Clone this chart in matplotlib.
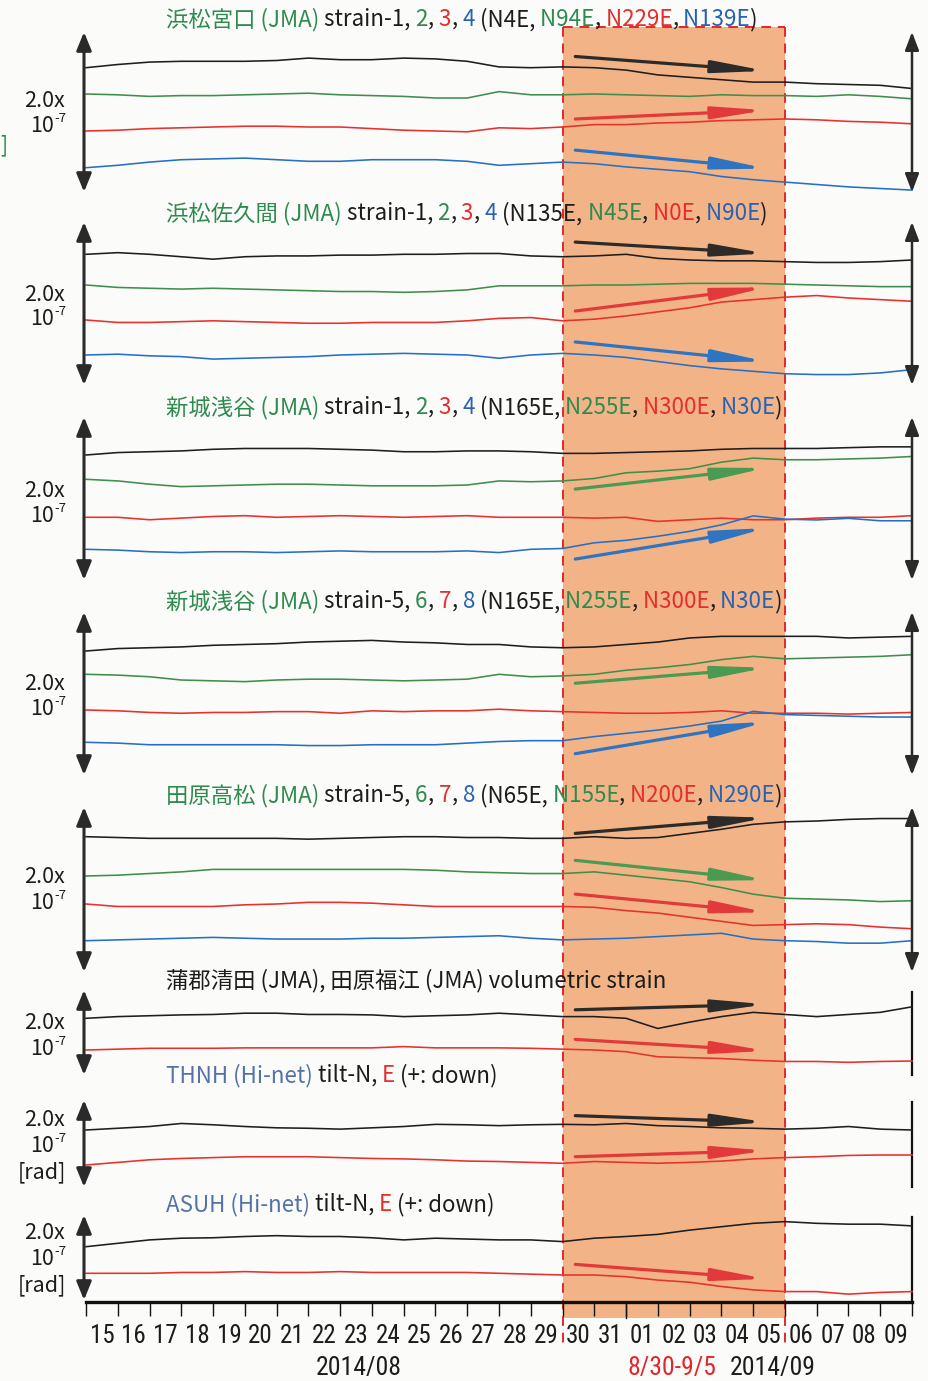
import numpy as np
import matplotlib
matplotlib.use("Agg")
import matplotlib.pyplot as plt
from matplotlib import font_manager
from matplotlib.font_manager import FontProperties

# ------------------------------------------------------------------ data
# day index 0 = start of 2014/08/15 ... 26 = end of 2014/09/09
DAY_EDGES = list(range(27))
DAY_LABELS = ["15", "16", "17", "18", "19", "20", "21", "22", "23", "24", "25",
              "26", "27", "28", "29", "30", "31", "01", "02", "03", "04", "05",
              "06", "07", "08", "09"]
MONTH_LABELS = ["2014/08", "2014/09"]
EVENT_LABEL = "8/30-9/5"
EVENT_START = 15      # 8/30
EVENT_END = 22        # end of 9/5
MONTH_BOUNDARY = 17   # 9/01
ARROW_DAYS = [15.4, 21.4]

# traces, nano-strain (1e-9) / nano-radian, relative to first sample, daily
P1_S1 = [0, 4, 7, 8, 8, 8, 9, 12, 10, 10, 12, 11, 8, 1, 0, 1, 0, -3, -9, -12, -15, -18, -18, -20, -21, -22, -26]
P1_S2 = [0, -1, -3, -2, -2, -1, 0, 1, -1, -2, -3, -5, -5, 3, -1, -1, 0, -1, -2, -3, -1, -2, -2, -3, -1, -3, -6]
P1_S3 = [0, 1, 3, 4, 5, 6, 6, 5, 5, 3, 1, 0, -1, 4, 3, 5, 8, 8, 10, 11, 13, 14, 15, 14, 12, 11, 9]
P1_S4 = [0, 3, 7, 10, 11, 12, 10, 8, 8, 10, 10, 10, 8, 3, 5, 7, 5, 1, -2, -5, -11, -15, -18, -21, -24, -26, -28]

P2_S1 = [0, 2, 0, -3, -6, -3, -2, -2, -1, -1, 0, 0, 1, 1, -2, -3, -2, 0, -5, -7, -8, -8, -9, -10, -10, -9, -7]
P2_S2 = [0, -3, -4, -5, -4, -5, -6, -7, -8, -8, -9, -8, -6, -1, -1, -1, 0, 0, 1, 2, 2, 2, 1, 0, -1, -2, -2]
P2_S3 = [0, -3, -3, -2, -1, -2, -3, -4, -4, -3, -3, -3, -1, 2, 3, -1, 1, 5, 10, 15, 22, 25, 28, 30, 27, 25, 23]
P2_S4 = [0, 1, -1, -2, -5, -4, -3, -2, 0, 1, 2, 1, 0, -4, 0, 2, 0, -3, -8, -13, -17, -20, -23, -24, -24, -22, -18]

P3_S1 = [0, 3, 4, 5, 7, 8, 8, 8, 7, 6, 4, 4, 5, 5, 4, 2, 2, 3, 4, 5, 7, 8, 8, 8, 9, 10, 10]
P3_S2 = [0, -2, -6, -9, -8, -7, -6, -6, -7, -8, -8, -8, -7, -2, -3, -2, 1, 8, 10, 13, 21, 26, 24, 24, 25, 26, 28]
P3_S3 = [0, 0, -3, -1, 1, 2, 0, 1, 2, 1, 0, 1, 2, 0, 0, 0, -1, 0, -5, -3, -1, -3, -3, -1, 0, 0, 2]
P3_S4 = [0, -1, -3, -4, -3, -3, -4, -3, -2, -3, -3, -3, -2, -4, 0, 1, 8, 11, 16, 22, 30, 41, 37, 36, 38, 35, 35]

P4_S5 = [0, 3, 4, 5, 7, 8, 9, 11, 12, 13, 11, 10, 8, 8, 5, 4, 5, 8, 11, 16, 18, 18, 18, 18, 16, 17, 18]
P4_S6 = [0, -1, -3, -7, -8, -9, -7, -6, -6, -7, -8, -7, -6, 0, -3, -2, 0, 5, 8, 12, 18, 22, 19, 20, 21, 22, 24]
P4_S7 = [0, -1, -3, -4, -3, -3, -2, -2, -4, -1, -2, -1, -1, 1, -1, -2, -3, -4, -4, -3, -1, -4, -4, -4, -5, -4, -3]
P4_S8 = [0, -1, -3, -3, -3, -3, -3, -4, -4, -3, -3, -3, -1, 1, 2, 2, 7, 11, 15, 20, 26, 38, 34, 33, 32, 31, 31]

P5_S5 = [0, -1, -2, -2, -2, -2, -2, -3, -2, -1, 0, 0, -1, -1, -2, -2, 0, -2, -1, 4, 9, 15, 18, 19, 21, 22, 22]
P5_S6 = [0, 1, 3, 5, 8, 8, 8, 8, 8, 8, 8, 7, 5, 4, 3, 3, 5, 1, -3, -7, -14, -22, -27, -28, -29, -31, -30]
P5_S7 = [0, -3, -3, -3, -3, -1, 0, 2, 2, 1, -1, -3, -3, -3, -3, -3, -4, -8, -11, -16, -21, -26, -25, -24, -25, -28, -30]
P5_S8 = [0, 1, 2, 3, 4, 3, 2, 2, 2, 3, 3, 4, 5, 6, 3, 1, 2, 3, 5, 7, 9, 2, 0, -1, -3, -3, 0]

P6_VOL1 = [0, 4, 6, 8, 9, 12, 12, 9, 9, 8, 4, 6, 8, 12, 8, 4, 4, 0, -24, -9, 4, 14, 9, 4, 9, 14, 27]
P6_VOL2 = [0, 2, 4, 4, 4, 5, 5, 5, 5, 5, 8, 5, 5, 5, 4, 2, 0, -4, -16, -18, -20, -24, -27, -27, -29, -27, -26]

P7_N = [0, 4, 8, 15, 12, 8, 5, 4, 2, 5, 8, 13, 12, 10, 12, 13, 12, 15, 10, 8, 5, 4, 2, 4, 8, 2, 0]
P7_E = [0, 6, 12, 15, 17, 19, 19, 19, 17, 15, 14, 12, 9, 8, 6, 4, 8, 6, 4, 6, 9, 14, 17, 19, 22, 23, 23]

P8_N = [0, 8, 16, 20, 21, 24, 26, 24, 24, 21, 16, 20, 18, 16, 16, 12, 20, 24, 29, 39, 47, 55, 59, 55, 53, 53, 49]
P8_E = [0, 0, 0, 2, 2, 4, 2, 2, 4, 2, 2, 2, 2, 0, -2, -4, -4, -8, -16, -21, -31, -39, -43, -43, -49, -45, -43]

# trend arrows (start, end) relative to the trace's first sample
P1_TRENDS = {0: [14, -4], 2: [15, 26], 3: [22, -1]}
P2_TRENDS = {0: [15, 1], 2: [11, 40], 3: [16, -8]}
P3_TRENDS = {1: [-12, 14], 3: [-12, 26]}
P4_TRENDS = {1: [-11, 8], 3: [-14, 25]}
P5_TRENDS = {0: [4, 23], 1: [19, -5], 2: [12, -10]}
P6_TRENDS = {0: [20, 33], 1: [25, -2]}
P7_TRENDS = {0: [33, 18], 1: [19, 33]}
P8_TRENDS = {0: [39, 76], 1: [21, -13]}

STATIONS = ["浜松宮口", "浜松佐久間", "新城浅谷", "新城浅谷", "田原高松"]
COMPONENTS = [["1", "2", "3", "4"], ["1", "2", "3", "4"], ["1", "2", "3", "4"],
              ["5", "6", "7", "8"], ["5", "6", "7", "8"]]
AZIMUTHS = [["N4E", "N94E", "N229E", "N139E"], ["N135E", "N45E", "N0E", "N90E"],
            ["N165E", "N255E", "N300E", "N30E"], ["N165E", "N255E", "N300E", "N30E"],
            ["N65E", "N155E", "N200E", "N290E"]]
VOL_TITLE = "蒲郡清田 (JMA), 田原福江 (JMA) volumetric strain"
TILT_STATIONS = ["THNH", "ASUH"]

# ------------------------------------------------------------------ style
W, H = 929, 1381
X0, X1 = 86, 912          # pixel position of day 0 and day 26
AXIS_Y = 1302
BG = "#fbfbf9"
SHADE = "#f2b487"
DASH = "#e0282c"
TK = "#1c1c1c"
TG = "#2f8a4f"
TR = "#e52d2d"
TB = "#2762b3"
TS = "#5572a8"
LK, LG, LR, LB = "#1e1e1e", "#3f8f4a", "#e8302c", "#2570c4"
AK, AG, AR, AB = "#2b2b2b", "#4a9a52", "#e23a3a", "#2f74c0"
BAR = "#2a2a2a"

CJK = ["Noto Sans CJK JP", "DejaVu Sans"]


def pick_narrow():
    fl = font_manager.fontManager.ttflist
    prefs = ["Liberation Sans Narrow", "Roboto Condensed", "Open Sans Condensed",
             "Noto Sans Condensed", "DejaVu Sans Condensed"]
    for n in prefs:
        for f in fl:
            if f.name == n and f.style == "normal" and f.weight in (400, "normal", "regular"):
                return f.fname
    for f in fl:
        if ("condensed" in str(f.stretch) and f.style == "normal"
                and f.weight in (400, "normal", "regular")
                and f.name in ("DejaVu Sans", "Noto Sans", "Open Sans", "Roboto",
                               "Liberation Sans")):
            return f.fname
    return None


NARROW_FILE = pick_narrow()


def tick_font(size):
    if NARROW_FILE:
        return FontProperties(fname=NARROW_FILE, size=size)
    return FontProperties(family="Noto Sans CJK JP", size=size - 1.5)


PANELS = [
    dict(top=32, bot=192, base=[67.7, 94, 131, 167.7], series=[P1_S1, P1_S2, P1_S3, P1_S4],
         colors=[LK, LG, LR, LB], acolors=[AK, AG, AR, AB], trends=P1_TRENDS,
         lab=[107, 132, None], right="arrow", title_y=26),
    dict(top=222, bot=385, base=[254.3, 285, 320, 355], series=[P2_S1, P2_S2, P2_S3, P2_S4],
         colors=[LK, LG, LR, LB], acolors=[AK, AG, AR, AB], trends=P2_TRENDS,
         lab=[301, 325, None], right="arrow", title_y=220),
    dict(top=417, bot=580, base=[455, 479.3, 517.3, 549.3], series=[P3_S1, P3_S2, P3_S3, P3_S4],
         colors=[LK, LG, LR, LB], acolors=[AK, AG, AR, AB], trends=P3_TRENDS,
         lab=[497, 522, None], right="arrow", title_y=414),
    dict(top=612, bot=775, base=[651, 674.3, 710, 742.3], series=[P4_S5, P4_S6, P4_S7, P4_S8],
         colors=[LK, LG, LR, LB], acolors=[AK, AG, AR, AB], trends=P4_TRENDS,
         lab=[690, 715, None], right="arrow", title_y=608),
    dict(top=807, bot=972, base=[836.7, 876, 904, 940.7], series=[P5_S5, P5_S6, P5_S7, P5_S8],
         colors=[LK, LG, LR, LB], acolors=[AK, AG, AR, AB], trends=P5_TRENDS,
         lab=[883, 909, None], right="arrow", title_y=802),
    dict(top=990, bot=1075, base=[1018.3, 1050], series=[P6_VOL1, P6_VOL2],
         colors=[LK, LR], acolors=[AK, AR], trends=P6_TRENDS,
         lab=[1029, 1055, None], right="line", title_y=987),
    dict(top=1100, bot=1187, base=[1130, 1165], series=[P7_N, P7_E],
         colors=[LK, LR], acolors=[AK, AR], trends=P7_TRENDS,
         lab=[1126, 1152, 1178], right="line", title_y=1082),
    dict(top=1215, bot=1300, base=[1246.7, 1273.3], series=[P8_N, P8_E],
         colors=[LK, LR], acolors=[AK, AR], trends=P8_TRENDS,
         lab=[1239, 1265, 1291], right="line", title_y=1211),
]

# ------------------------------------------------------------------ figure
fig = plt.figure(figsize=(W / 100, H / 100), dpi=100, facecolor=BG)
renderer = fig.canvas.get_renderer()

# layout axis in pixels (texts)
lay = fig.add_axes([0, 0, 1, 1], zorder=5)
lay.set_xlim(0, W)
lay.set_ylim(H, 0)
lay.axis("off")
lay.patch.set_alpha(0)

# day axis spanning whole height (shade, dashed lines)
dax = fig.add_axes([X0 / W, 0, (X1 - X0) / W, 1], zorder=0)
dax.set_xlim(0, 26)
dax.set_ylim(H, 0)
dax.axis("off")
dax.patch.set_alpha(0)
dax.fill_between([EVENT_START, EVENT_END], 27, 1318, color=SHADE, lw=0, zorder=1)
for xd in (EVENT_START, EVENT_END):
    dax.plot([xd, xd], [27, 1345], color=DASH, lw=1.4, ls=(0, (5, 3.5)), zorder=2,
             clip_on=False)
dax.plot([EVENT_START, EVENT_END], [27, 27], color=DASH, lw=1.4, ls=(0, (5, 3.5)),
         zorder=2, clip_on=False)
dax.plot([MONTH_BOUNDARY, MONTH_BOUNDARY], [AXIS_Y, 1318], color="#111", lw=1.0,
         zorder=3)


def rich(x, y, parts, size):
    for s, c in parts:
        t = lay.text(x, y, s, color=c, fontsize=size, family=CJK, ha="left",
                     va="baseline")
        x += t.get_window_extent(renderer).width


def strain_parts(name, comps, azis):
    cols = [TK, TG, TR, TB]
    parts = [(name + " (JMA)", TG), (" strain-" + comps[0] + ",", TK)]
    for i in range(1, 4):
        parts.append((" " + comps[i], cols[i]))
        if i < 3:
            parts.append((",", TK))
    parts.append((" (" + azis[0] + ",", TK))
    for i in range(1, 4):
        parts.append((" " + azis[i], cols[i]))
        parts.append(("," if i < 3 else ")", TK))
    return parts


TITLE_SIZE = 16.1
TITLE_X = 166
for i in range(5):
    rich(TITLE_X, PANELS[i]["title_y"], strain_parts(STATIONS[i], COMPONENTS[i], AZIMUTHS[i]),
         TITLE_SIZE)
rich(TITLE_X, PANELS[5]["title_y"], [(VOL_TITLE, TK)], TITLE_SIZE)
for j, st in enumerate(TILT_STATIONS):
    rich(TITLE_X, PANELS[6 + j]["title_y"],
         [(st + " (Hi-net)", TS), (" tilt-N,", TK), (" E", TR), (" (+: down)", TK)],
         TITLE_SIZE)

lay.text(0, 151, "]", color=TG, fontsize=15, family=CJK, ha="left", va="baseline")

# ------------------------------------------------------------------ panels
for p in PANELS:
    top, bot = p["top"], p["bot"]
    ax = fig.add_axes([X0 / W, 1 - bot / H, (X1 - X0) / W, (bot - top) / H], zorder=2)
    ax.set_xlim(0, 26)
    ax.set_ylim(-200, 0)
    ax.axis("off")
    ax.patch.set_alpha(0)
    for k, (vals, col) in enumerate(zip(p["series"], p["colors"])):
        off = -(p["base"][k] - top) / (bot - top) * 200
        ax.plot(DAY_EDGES, off + np.array(vals), color=col, lw=1.15, clip_on=False,
                solid_joinstyle="round", zorder=3)
        if k in p["trends"]:
            a0, a1 = p["trends"][k]
            ax.annotate("", xy=(ARROW_DAYS[1], off + a1), xytext=(ARROW_DAYS[0], off + a0),
                        arrowprops=dict(arrowstyle="-|>,head_length=3.1,head_width=0.36",
                                        mutation_scale=10, lw=2.3, color=p["acolors"][k],
                                        shrinkA=0, shrinkB=0), zorder=4)
    # scale bar (2.0 x 1e-7) on the left
    lx = (84 - X0) / (X1 - X0)
    ax.annotate("", xy=(lx, 1), xytext=(lx, 0), xycoords="axes fraction",
                arrowprops=dict(arrowstyle="<|-|>,head_length=1.1,head_width=0.45",
                                mutation_scale=10, lw=2.2, color=BAR, shrinkA=0,
                                shrinkB=0))
    if p["right"] == "arrow":
        ax.annotate("", xy=(1, 1), xytext=(1, 0), xycoords="axes fraction",
                    arrowprops=dict(arrowstyle="<|-|>,head_length=1.1,head_width=0.42",
                                    mutation_scale=10, lw=1.8, color=BAR, shrinkA=0,
                                    shrinkB=0))
    else:
        ax.plot([1, 1], [0, 0.98], transform=ax.transAxes, color="#111", lw=1.6,
                clip_on=False)
    # scale labels
    y1, y2, y3 = p["lab"]
    lay.text(65, y1, "2.0x", fontsize=15.5, family=CJK, color=TK, ha="right", va="baseline")
    lay.text(54, y2, "10", fontsize=15.5, family=CJK, color=TK, ha="right", va="baseline")
    lay.text(54, y2 - 10, "-7", fontsize=9.5, family=CJK, color=TK, ha="left", va="baseline")
    if y3 is not None:
        lay.text(66, y3, "[rad]", fontsize=15.5, family=CJK, color=TK, ha="right",
                 va="baseline")

# ------------------------------------------------------------------ time axis
tax = fig.add_axes([X0 / W, 1 - AXIS_Y / H, (X1 - X0) / W, 0.0005], zorder=3)
tax.set_xlim(0, 26)
tax.patch.set_alpha(0)
for s in ["top", "left", "right"]:
    tax.spines[s].set_visible(False)
tax.spines["bottom"].set_linewidth(2.4)
tax.spines["bottom"].set_color("#111")
tax.set_yticks([])
tax.set_xticks(DAY_EDGES)
tax.tick_params(axis="x", which="major", length=10, width=1.0, direction="out",
                labelbottom=False, color="#111")
tax.set_xticks(np.arange(len(DAY_LABELS)) + 0.5, minor=True)
tax.set_xticklabels(DAY_LABELS, minor=True, fontproperties=tick_font(18), color=TK)
tax.tick_params(axis="x", which="minor", length=0, pad=16)

dax.text(8.6, 1375, MONTH_LABELS[0], fontproperties=tick_font(18.5), color=TK, ha="center",
         va="baseline")
dax.text(18.45, 1375, EVENT_LABEL, fontproperties=tick_font(18.5), color=DASH, ha="center",
         va="baseline")
dax.text(21.6, 1375, MONTH_LABELS[1], fontproperties=tick_font(18.5), color=TK, ha="center",
         va="baseline")

fig.savefig("out.png", dpi=100, facecolor=BG)
